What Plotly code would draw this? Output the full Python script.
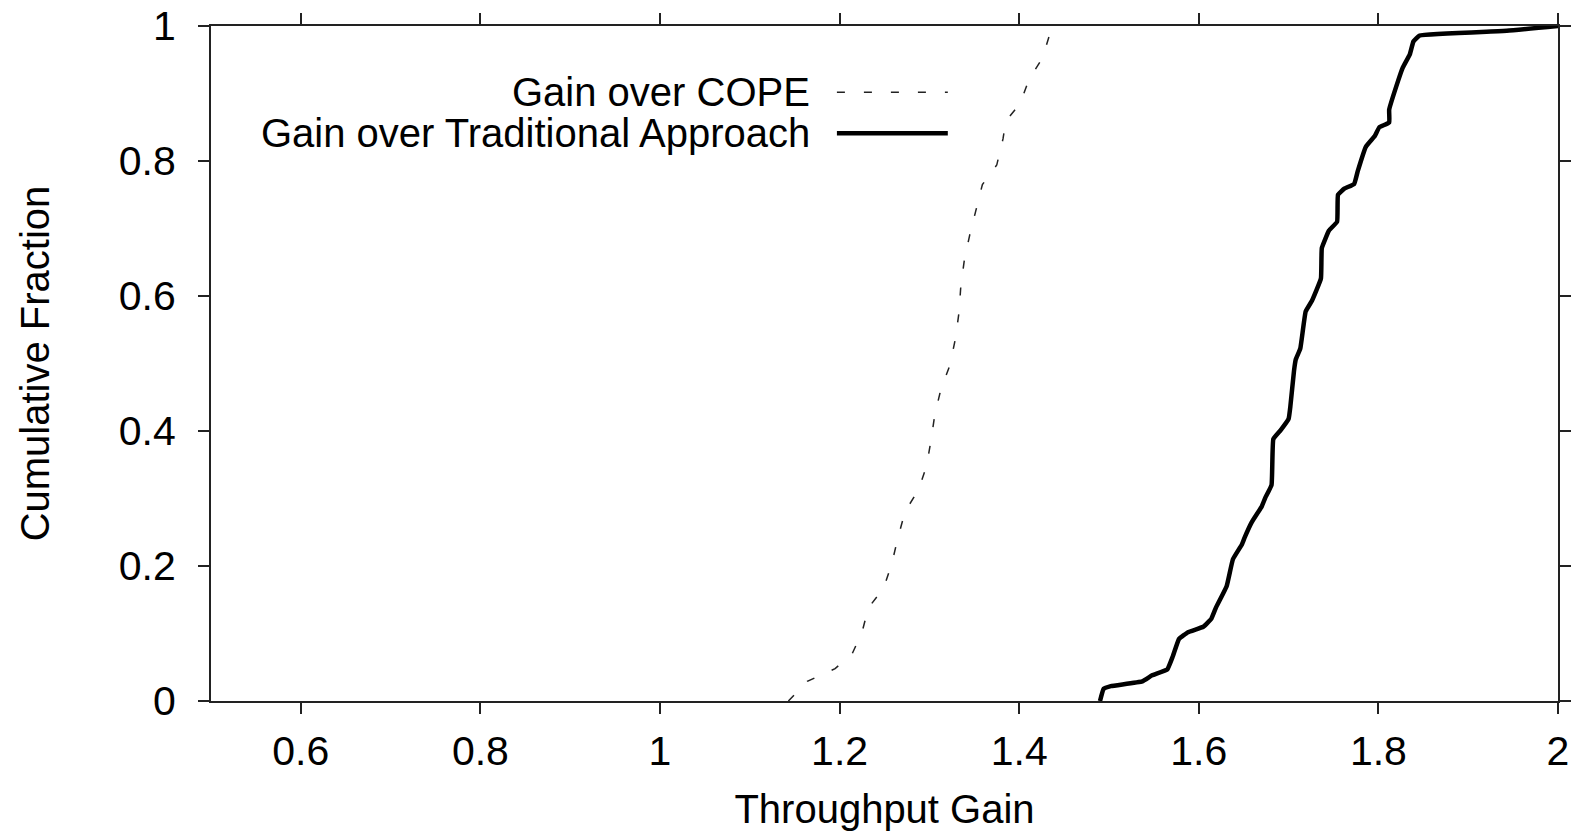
import plotly.graph_objects as go

# Data
cope_x = [1.143, 1.164, 1.195, 1.214, 1.225, 1.232, 1.249, 1.258, 1.265, 1.273, 1.288,
          1.297, 1.302, 1.306, 1.313, 1.323, 1.329, 1.333, 1.335, 1.339, 1.345, 1.352,
          1.359, 1.375, 1.382, 1.385, 1.401, 1.411, 1.426, 1.435, 1.437]
cope_y = [0.0, 0.029, 0.048, 0.070, 0.102, 0.138, 0.167, 0.203, 0.242, 0.281, 0.313,
          0.349, 0.388, 0.424, 0.463, 0.498, 0.537, 0.576, 0.615, 0.654, 0.691, 0.729,
          0.765, 0.794, 0.833, 0.859, 0.885, 0.921, 0.953, 0.992, 1.0]

trad_x = [1.490, 1.494, 1.502, 1.537, 1.548, 1.565, 1.571, 1.578, 1.588, 1.605, 1.614,
          1.619, 1.631, 1.638, 1.648, 1.651, 1.659, 1.670, 1.674, 1.681, 1.683, 1.691,
          1.700, 1.702, 1.706, 1.708, 1.713, 1.719, 1.726, 1.736, 1.737, 1.745, 1.754,
          1.755, 1.762, 1.773, 1.777, 1.786, 1.796, 1.801, 1.812, 1.812, 1.822, 1.827,
          1.835, 1.839, 1.846, 1.943, 2.0]
trad_y = [0.0, 0.018, 0.022, 0.029, 0.038, 0.047, 0.066, 0.092, 0.102, 0.110, 0.122,
          0.138, 0.170, 0.210, 0.232, 0.242, 0.265, 0.288, 0.301, 0.320, 0.388, 0.401,
          0.418, 0.437, 0.489, 0.506, 0.522, 0.577, 0.593, 0.626, 0.671, 0.697, 0.710,
          0.750, 0.759, 0.766, 0.785, 0.821, 0.837, 0.850, 0.857, 0.876, 0.919, 0.938,
          0.958, 0.977, 0.986, 0.993, 1.0]

x_ticks = [0.6, 0.8, 1.0, 1.2, 1.4, 1.6, 1.8, 2.0]
x_tick_labels = ["0.6", "0.8", "1", "1.2", "1.4", "1.6", "1.8", "2"]
y_ticks = [0, 0.2, 0.4, 0.6, 0.8, 1.0]
y_tick_labels = ["0", "0.2", "0.4", "0.6", "0.8", "1"]

series_names = ["Gain over COPE", "Gain over Traditional Approach"]

FONT = "Liberation Sans, Arial, sans-serif"

fig = go.Figure()
fig.add_trace(go.Scatter(x=cope_x, y=cope_y, mode="lines", name=series_names[0],
                         line=dict(color="#222222", width=1.5, dash="8px,19px"),
                         showlegend=False))
fig.add_trace(go.Scatter(x=trad_x, y=trad_y, mode="lines", name=series_names[1],
                         line=dict(color="black", width=4.5, shape="spline", smoothing=0.3),
                         showlegend=False))

# Legend drawn gnuplot-style: right-aligned text followed by the line sample
leg_y = [0.902, 0.841]
for name, yy, dash, w in zip(series_names, leg_y, ["8px,19px", "solid"], [1.5, 4.5]):
    fig.add_annotation(x=1.169, y=yy, xref="x", yref="y", text=name, showarrow=False,
                       xanchor="right", yanchor="middle",
                       font=dict(family=FONT, size=40, color="black"))
    fig.add_shape(type="line", x0=1.197, x1=1.3205, y0=yy, y1=yy, xref="x", yref="y",
                  line=dict(color="black" if dash == "solid" else "#222222", width=w, dash=dash))

axis_common = dict(showgrid=False, zeroline=False, showline=True, linecolor="#222222",
                   linewidth=2, mirror="ticks", ticks="outside", ticklen=11, tickwidth=1.5,
                   tickcolor="#222222", automargin=False, ticklabeloverflow="allow",
                   tickfont=dict(family=FONT, size=41, color="black"))

fig.update_xaxes(range=[0.5, 2.0], tickvals=x_ticks, ticktext=x_tick_labels,
                 title=dict(text="Throughput Gain", font=dict(family=FONT, size=40, color="black"),
                            standoff=23),
                 ticklabelstandoff=2, **axis_common)
fig.update_yaxes(range=[0, 1.0], tickvals=y_ticks, ticktext=y_tick_labels,
                 title=dict(text="Cumulative Fraction", font=dict(family=FONT, size=40, color="black"),
                            standoff=57),
                 ticklabelstandoff=14, **axis_common)

# the page body has an 8px margin, so the figure is sized to fit inside the window
fig.update_layout(width=1565, height=823, plot_bgcolor="white", paper_bgcolor="white",
                  margin=dict(l=203, r=15, t=18, b=130), showlegend=False)

fig.write_html("out.html")
